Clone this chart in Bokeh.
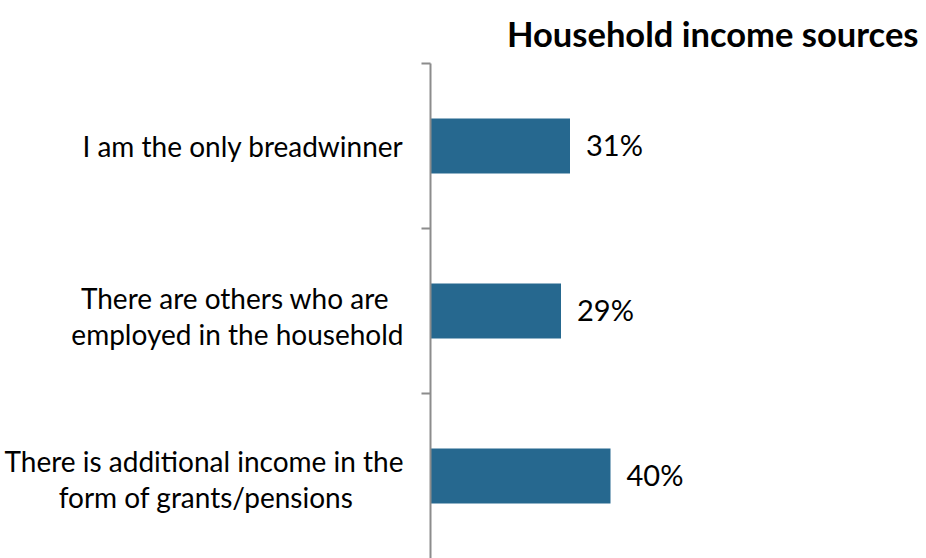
from bokeh.plotting import figure
from bokeh.models import FixedTicker, Range1d, ColumnDataSource, LinearAxis
from bokeh.embed import file_html
from bokeh.resources import INLINE
from bokeh.core.properties import value

NBSP = "\u00a0"

# Data
categories = ["There is additional income in the\nform of grants/pensions" + NBSP * 7,
              "There are others who are" + NBSP * 2 + "\nemployed in the household",
              "I am the only breadwinner"]
values = [40, 29, 31]
value_labels = ["40%", "29%", "31%"]
title_text = "Household income sources"

ypos = [0.5, 1.5, 2.5]
boundaries = [1, 2, 3]
src = ColumnDataSource(dict(y=ypos, v=values, lab=value_labels))

FONT = "Lato"
FRAME_LEFT = 430
FRAME_RIGHT = 918
PX_PER_PCT = 4.5
p = figure(width=920, height=558, output_backend="svg", toolbar_location=None,
           x_range=Range1d(0, (FRAME_RIGHT - FRAME_LEFT) / PX_PER_PCT), y_range=Range1d(0, 3),
           min_border_left=FRAME_LEFT, min_border_top=62, min_border_right=920 - FRAME_RIGHT,
           min_border_bottom=0, title=title_text)
p.outline_line_color = None
p.xgrid.visible = False
p.ygrid.visible = False
p.xaxis.visible = False
p.background_fill_color = "white"
p.border_fill_color = "white"

p.title.align = "right"
p.title.text_font = FONT
p.title.text_font_style = "bold"
p.title.text_font_size = "34.5px"
p.title.text_color = "#000000"
p.title.text_line_height = 0.8
p.title.standoff = 20

# Axis with ticks at category boundaries
p.yaxis.ticker = FixedTicker(ticks=boundaries)
p.yaxis.major_label_overrides = {b: "" for b in boundaries}
p.yaxis.major_label_standoff = 0
p.yaxis.major_tick_in = 0
p.yaxis.major_tick_out = 9
p.yaxis.minor_tick_line_color = None
p.yaxis.axis_line_color = "#8c8c8c"
p.yaxis.major_tick_line_color = "#8c8c8c"
p.yaxis.axis_line_width = 2
p.yaxis.major_tick_line_width = 2

# Axis carrying the category labels (two-line labels sit slightly below the bar centres)
label_shift = [0.02, 0.03, 0.0]
lab_ticks = [y - s for y, s in zip(ypos, label_shift)]
lab_axis = LinearAxis(ticker=FixedTicker(ticks=lab_ticks),
                      major_label_overrides={t: c for t, c in zip(lab_ticks, categories)})
lab_axis.axis_line_color = None
lab_axis.major_tick_line_color = None
lab_axis.minor_tick_line_color = None
lab_axis.major_tick_in = 0
lab_axis.major_tick_out = 0
lab_axis.major_label_standoff = 18
lab_axis.major_label_text_font = FONT
lab_axis.major_label_text_font_size = "28px"
lab_axis.major_label_text_color = "#000000"
lab_axis.major_label_text_line_height = 1.05
p.add_layout(lab_axis, "left")

p.hbar(y="y", right="v", left=0, height=0.333, source=src, fill_color="#26688F", line_color=None)
p.text(x="v", y="y", text="lab", source=src, x_offset=16, y_offset=-2, text_baseline="middle",
       text_align="left", text_font=value(FONT), text_font_size="29px", text_color="#000000")

open("out.html", "w").write(file_html(p, INLINE))
